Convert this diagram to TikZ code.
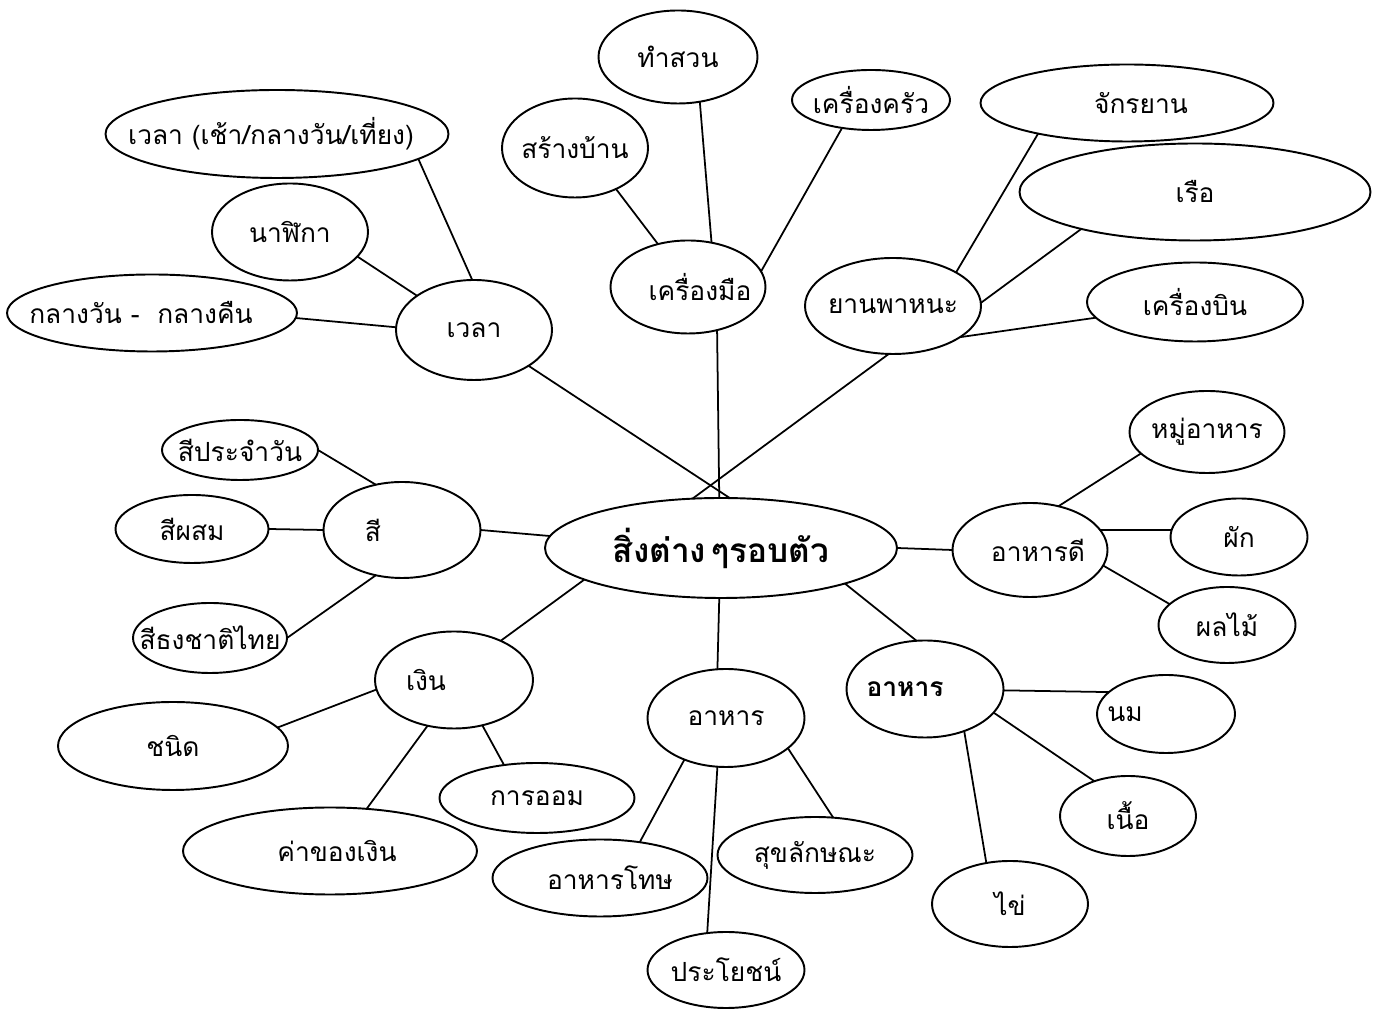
\documentclass[tikz,border=0pt]{standalone}
\usepackage{fontspec}
\setmainfont{Loma}[Script=Thai]
\usetikzlibrary{shapes.geometric}
\tikzset{
  bubble/.style={draw, ellipse, line width=1.1pt, inner sep=0pt, outer sep=0pt, font=\fontsize{15}{18}\selectfont},
  link/.style={line width=1pt},
}
% text that does not widen its ellipse, optionally shifted sideways
\newcommand{\tx}[2][0pt]{\makebox[0pt]{\hspace*{#1}#2\hspace*{-#1}}}

\begin{document}
\begin{tikzpicture}
  \useasboundingbox (0,0) rectangle (27.68,20.18);

  % Centre
  \node[bubble, minimum width=7.04cm, minimum height=2.0cm, font=\bfseries\fontsize{19}{22}\selectfont] (root) at (14.42, 9.22) {\tx{สิ่งต่าง\,ๆรอบตัว}};

  % Tools
  \node[bubble, minimum width=3.10cm, minimum height=1.86cm] (tools) at (13.76, 14.44) {\tx[0.24cm]{เครื่องมือ}};
  \node[bubble, minimum width=3.18cm, minimum height=1.86cm] (garden) at (13.56, 19.04) {\tx{ทำสวน}};
  \node[bubble, minimum width=2.92cm, minimum height=1.98cm] (house) at (11.50, 17.22) {\tx{สร้างบ้าน}};
  \node[bubble, minimum width=3.16cm, minimum height=1.20cm] (kitchen) at (17.42, 18.18) {\tx{เครื่องครัว}};

  % Vehicles
  \node[bubble, minimum width=3.52cm, minimum height=1.92cm] (vehicle) at (17.86, 14.06) {\tx{ยานพาหนะ}};
  \node[bubble, minimum width=5.86cm, minimum height=1.54cm] (bicycle) at (22.54, 18.12) {\tx[0.28cm]{จักรยาน}};
  \node[bubble, minimum width=7.02cm, minimum height=1.94cm] (boat) at (23.90, 16.34) {\tx{เรือ}};
  \node[bubble, minimum width=4.32cm, minimum height=1.58cm] (plane) at (23.90, 14.14) {\tx{เครื่องบิน}};

  % Time
  \node[bubble, minimum width=3.12cm, minimum height=2.00cm] (time) at (9.48, 13.58) {\tx{เวลา}};
  \node[bubble, minimum width=6.86cm, minimum height=1.76cm] (timeofday) at (5.54, 17.50) {\tx[-0.12cm]{เวลา (เช้า/กลางวัน/เที่ยง)}};
  \node[bubble, minimum width=3.12cm, minimum height=1.94cm] (clock) at (5.80, 15.54) {\tx{นาฬิกา}};
  \node[bubble, minimum width=5.80cm, minimum height=1.54cm] (daynight) at (3.04, 13.92) {\tx[-0.22cm]{กลางวัน - \ กลางคืน}};

  % Colours
  \node[bubble, minimum width=3.14cm, minimum height=1.92cm] (color) at (8.04, 9.58) {\tx[-0.58cm]{สี}};
  \node[bubble, minimum width=3.12cm, minimum height=1.20cm] (daycolor) at (4.80, 11.18) {\tx{สีประจำวัน}};
  \node[bubble, minimum width=3.06cm, minimum height=1.36cm] (mixcolor) at (3.84, 9.60) {\tx{สีผสม}};
  \node[bubble, minimum width=3.08cm, minimum height=1.40cm] (flagcolor) at (4.20, 7.42) {\tx{สีธงชาติไทย}};

  % Money
  \node[bubble, minimum width=3.16cm, minimum height=1.94cm] (money) at (9.08, 6.58) {\tx[-0.56cm]{เงิน}};
  \node[bubble, minimum width=4.60cm, minimum height=1.76cm] (kind) at (3.46, 5.26) {\tx{ชนิด}};
  \node[bubble, minimum width=3.90cm, minimum height=1.40cm] (saving) at (10.74, 4.22) {\tx{การออม}};
  \node[bubble, minimum width=5.88cm, minimum height=1.74cm] (value) at (6.60, 3.16) {\tx[0.14cm]{ค่าของเงิน}};

  % Food (middle)
  \node[bubble, minimum width=3.14cm, minimum height=1.96cm] (food1) at (14.52, 5.82) {\tx{อาหาร}};
  \node[bubble, minimum width=4.30cm, minimum height=1.54cm] (harmful) at (12.00, 2.62) {\tx[0.2cm]{อาหารโทษ}};
  \node[bubble, minimum width=3.14cm, minimum height=1.52cm] (benefit) at (14.52, 0.78) {\tx{ประโยชน์}};
  \node[bubble, minimum width=3.90cm, minimum height=1.52cm] (hygiene) at (16.30, 3.08) {\tx{สุขลักษณะ}};

  % Food (right)
  \node[bubble, minimum width=3.14cm, minimum height=1.94cm, font=\bfseries\fontsize{15}{18}\selectfont] (food2) at (18.50, 6.40) {\tx[-0.40cm]{อาหาร}};
  \node[bubble, minimum width=2.76cm, minimum height=1.56cm] (milk) at (23.32, 5.90) {\tx[-0.82cm]{นม}};
  \node[bubble, minimum width=2.72cm, minimum height=1.60cm] (meat) at (22.56, 3.86) {\tx{เนื้อ}};
  \node[bubble, minimum width=3.12cm, minimum height=1.72cm] (egg) at (20.20, 2.10) {\tx{ไข่}};

  % Good food
  \node[bubble, minimum width=3.10cm, minimum height=1.88cm] (goodfood) at (20.60, 9.18) {\tx[0.16cm]{อาหารดี}};
  \node[bubble, minimum width=3.10cm, minimum height=1.64cm] (foodgroup) at (24.14, 11.54) {\tx{หมู่อาหาร}};
  \node[bubble, minimum width=2.74cm, minimum height=1.54cm] (veg) at (24.78, 9.44) {\tx{ผัก}};
  \node[bubble, minimum width=2.74cm, minimum height=1.52cm] (fruit) at (24.54, 7.68) {\tx{ผลไม้}};

  % Connectors
  \draw[link] (time) -- (root.80);
  \draw[link] (tools.-56) -- (root.92);
  \draw[link] (vehicle.-95) -- (root.120);
  \draw[link] (tools.125) -- (house.-45);
  \draw[link] (tools.62) -- (garden.-64);
  \draw[link] (tools.12) -- (kitchen.-136);
  \draw[link] (vehicle.28) -- (bicycle.-161);
  \draw[link] (vehicle.2) -- (boat.-162);
  \draw[link] (vehicle.-25) -- (plane.-171);
  \draw[link] (time.92) -- (timeofday.-10);
  \draw[link] (time.149) -- (clock.-20);
  \draw[link] (time.178) -- (daynight.-2);
  \draw[link] (color.120) -- (daycolor.east);
  \draw[link] (color.west) -- (mixcolor.east);
  \draw[link] (color.-120) -- (flagcolor.east);
  \draw[link] (root.176) -- (color.east);
  \draw[link] (root.-167) -- (money.40);
  \draw[link] (root.-92) -- (food1.100);
  \draw[link] (root.-16) -- (food2.100);
  \draw[link] (root.east) -- (goodfood.west);
  \draw[link] (money.-173) -- (kind.10);
  \draw[link] (money.-120) -- (value.49);
  \draw[link] (money.-58) -- (saving.135);
  \draw[link] (food1.-135) -- (harmful.42);
  \draw[link] (food1.-100) -- (benefit.117);
  \draw[link] (food1.-26) -- (hygiene.64);
  \draw[link] (goodfood.57) -- (foodgroup.-162);
  \draw[link] (goodfood.16) -- (veg.174);
  \draw[link] (goodfood.-12) -- (fruit.160);
  \draw[link] (food2.-1) -- (milk.159);
  \draw[link] (food2.-19) -- (meat.134);
  \draw[link] (food2.-47) -- (egg.120);
\end{tikzpicture}
\end{document}
